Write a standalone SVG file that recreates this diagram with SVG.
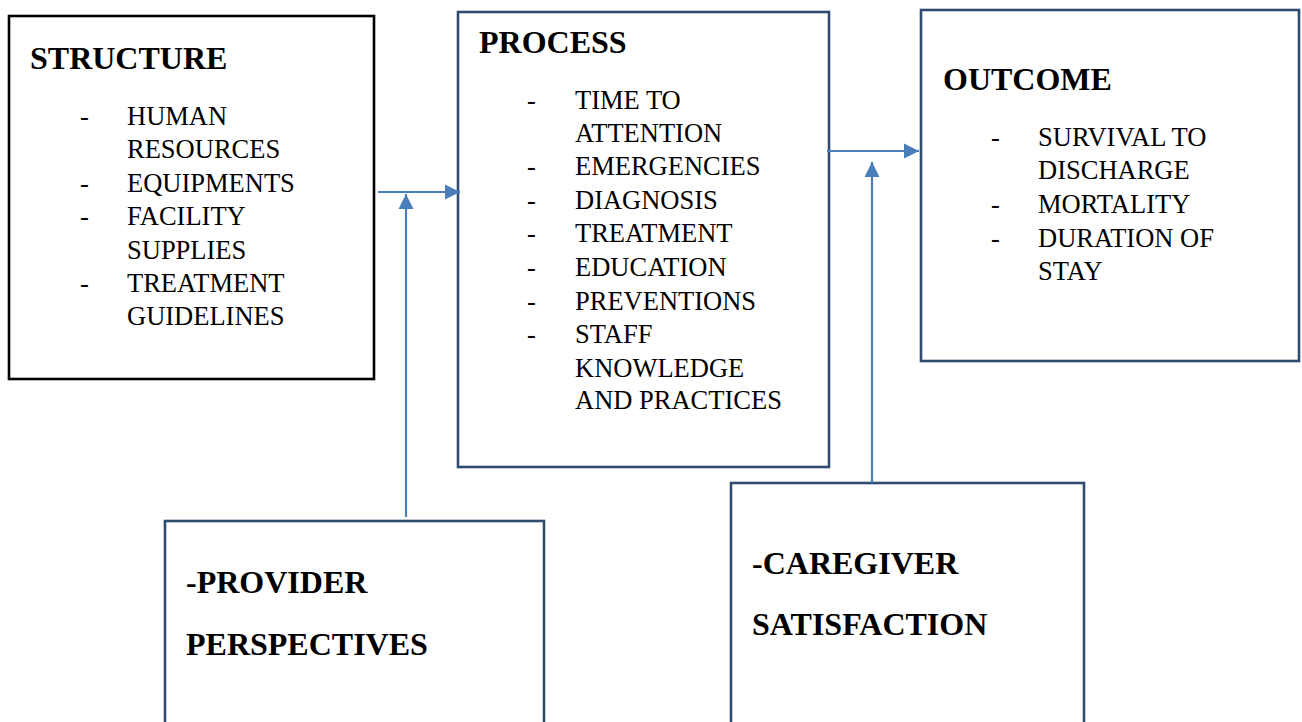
<svg xmlns="http://www.w3.org/2000/svg" width="1302" height="722" viewBox="0 0 1302 722" font-family="'Liberation Serif', 'Times New Roman', serif">
  <style>
    .box { fill: #ffffff; stroke: #2f4b6f; stroke-width: 2.6; }
    .box-black { fill: #ffffff; stroke: #000000; stroke-width: 2.6; }
    .head { font-family: "Liberation Serif", "Times New Roman", serif; font-weight: bold; font-size: 32px; fill: #000; }
    .item { font-family: "Liberation Serif", "Times New Roman", serif; font-size: 26.5px; fill: #000; }
    .link { fill: none; stroke: #4a7ebb; stroke-width: 2.2; }
  </style>
  <defs>
    <marker id="arrow" markerUnits="userSpaceOnUse" markerWidth="16" markerHeight="16" refX="15" refY="8" orient="auto">
      <path d="M0,0.5 L15,8 L0,15.5 Z" fill="#4a7ebb"/>
    </marker>
  </defs>
  <rect width="1302" height="722" fill="#ffffff"/>

  <g id="structure">
    <rect class="box-black" x="9" y="16" width="365" height="363"/>
    <text class="head" x="30" y="69">STRUCTURE</text>
    <g class="item">
      <text x="80" y="125">-</text><text x="127" y="125">HUMAN</text>
      <text x="127" y="158">RESOURCES</text>
      <text x="80" y="192">-</text><text x="127" y="192">EQUIPMENTS</text>
      <text x="80" y="225">-</text><text x="127" y="225">FACILITY</text>
      <text x="127" y="259">SUPPLIES</text>
      <text x="80" y="292">-</text><text x="127" y="292">TREATMENT</text>
      <text x="127" y="325">GUIDELINES</text>
    </g>
  </g>

  <g id="process">
    <rect class="box" x="458" y="12" width="371" height="455"/>
    <text class="head" x="479" y="53">PROCESS</text>
    <g class="item">
      <text x="527" y="109">-</text><text x="575" y="109">TIME TO</text>
      <text x="575" y="142">ATTENTION</text>
      <text x="527" y="175">-</text><text x="575" y="175">EMERGENCIES</text>
      <text x="527" y="209">-</text><text x="575" y="209">DIAGNOSIS</text>
      <text x="527" y="242">-</text><text x="575" y="242">TREATMENT</text>
      <text x="527" y="276">-</text><text x="575" y="276">EDUCATION</text>
      <text x="527" y="310">-</text><text x="575" y="310">PREVENTIONS</text>
      <text x="527" y="343">-</text><text x="575" y="343">STAFF</text>
      <text x="575" y="377">KNOWLEDGE</text>
      <text x="575" y="409">AND PRACTICES</text>
    </g>
  </g>

  <g id="outcome">
    <rect class="box" x="921" y="10" width="378" height="351"/>
    <text class="head" x="943" y="90">OUTCOME</text>
    <g class="item">
      <text x="991" y="146">-</text><text x="1038" y="146">SURVIVAL TO</text>
      <text x="1038" y="179">DISCHARGE</text>
      <text x="991" y="213">-</text><text x="1038" y="213">MORTALITY</text>
      <text x="991" y="247">-</text><text x="1038" y="247">DURATION OF</text>
      <text x="1038" y="280">STAY</text>
    </g>
  </g>

  <g id="provider">
    <rect class="box" x="165" y="521" width="379" height="220"/>
    <text class="head" x="186" y="593">-PROVIDER</text>
    <text class="head" x="186" y="655">PERSPECTIVES</text>
  </g>

  <g id="caregiver">
    <rect class="box" x="731" y="483" width="353" height="260"/>
    <text class="head" x="752" y="574">-CAREGIVER</text>
    <text class="head" x="752" y="635">SATISFACTION</text>
  </g>

  <g id="connectors">
    <line class="link" x1="378" y1="192" x2="460" y2="192" marker-end="url(#arrow)"/>
    <line class="link" x1="406" y1="517" x2="406" y2="194" marker-end="url(#arrow)"/>
    <line class="link" x1="827" y1="151" x2="919" y2="151" marker-end="url(#arrow)"/>
    <line class="link" x1="872" y1="483" x2="872" y2="162" marker-end="url(#arrow)"/>
  </g>
</svg>
